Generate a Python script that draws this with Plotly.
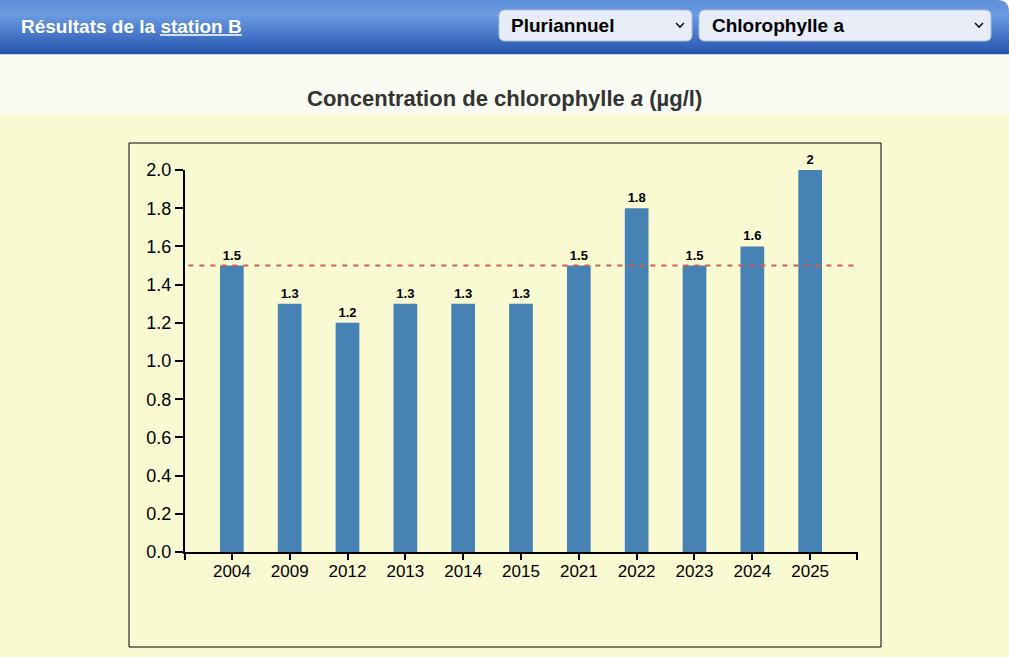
import plotly.graph_objects as go

# Data
years = ["2004", "2009", "2012", "2013", "2014", "2015", "2021", "2022", "2023", "2024", "2025"]
chl_a = [1.5, 1.3, 1.2, 1.3, 1.3, 1.3, 1.5, 1.8, 1.5, 1.6, 2.0]
reference_value = 1.5
y_ticks = [0.0, 0.2, 0.4, 0.6, 0.8, 1.0, 1.2, 1.4, 1.6, 1.8, 2.0]

W, H = 1009, 657
FONT = "Arial, Liberation Sans, sans-serif"


def px(x):
    return x / W


def py(y):
    return 1 - y / H


def rounded_rect(x0, y0, x1, y1, r):
    # SVG path for a rounded rectangle, given in pixel coords
    return (f"M{px(x0 + r)},{py(y0)} L{px(x1 - r)},{py(y0)} "
            f"Q{px(x1)},{py(y0)} {px(x1)},{py(y0 + r)} "
            f"L{px(x1)},{py(y1 - r)} Q{px(x1)},{py(y1)} {px(x1 - r)},{py(y1)} "
            f"L{px(x0 + r)},{py(y1)} Q{px(x0)},{py(y1)} {px(x0)},{py(y1 - r)} "
            f"L{px(x0)},{py(y0 + r)} Q{px(x0)},{py(y0)} {px(x0 + r)},{py(y0)} Z")


def lerp_color(c0, c1, t):
    a = [int(c0[i:i + 2], 16) for i in (1, 3, 5)]
    b = [int(c1[i:i + 2], 16) for i in (1, 3, 5)]
    return "#" + "".join(f"{round(a[i] + (b[i] - a[i]) * t):02x}" for i in range(3))


fig = go.Figure()
fig.add_trace(go.Bar(
    x=years, y=chl_a, width=0.41,
    marker=dict(color="#4682b4", line=dict(width=0)),
    text=[f"{v:g}" for v in chl_a], textposition="outside",
    textfont=dict(family=FONT, size=13, color="#000000", weight="bold"),
    constraintext="none", cliponaxis=False, hoverinfo="x+y",
))

shapes = []
# off-white band under the header
shapes.append(dict(type="rect", xref="paper", yref="paper", x0=0, x1=1,
                   y0=py(114), y1=1, fillcolor="#fafbf2", line_width=0, layer="below"))
# header gradient built from thin bands
stops = [(0, "#5f90da"), (14, "#6b9be1"), (54, "#2352ae")]
for yy in range(0, 54, 2):
    for (a, ca), (b, cb) in zip(stops, stops[1:]):
        if a <= yy < b:
            col = lerp_color(ca, cb, (yy - a) / (b - a))
    shapes.append(dict(type="rect", xref="paper", yref="paper", x0=0, x1=1,
                       y0=py(min(yy + 2, 54)), y1=py(yy), fillcolor=col,
                       line_width=0, layer="below"))
shapes.append(dict(type="line", xref="paper", yref="paper", x0=0, x1=1,
                   y0=py(54.5), y1=py(54.5), line=dict(color="#c9d8f2", width=1)))
# rounded top-right corner of the header
r = 12
shapes.append(dict(type="path", xref="paper", yref="paper",
                   path=(f"M{px(W - r)},{py(0)} L{px(W)},{py(0)} L{px(W)},{py(r)} "
                         f"Q{px(W)},{py(0)} {px(W - r)},{py(0)} Z"),
                   fillcolor="#fafbf2", line_width=0))
# dropdown boxes
for x0, x1 in [(499, 692), (699, 991)]:
    shapes.append(dict(type="path", xref="paper", yref="paper",
                       path=rounded_rect(x0, 10, x1, 41, 6),
                       fillcolor="#e7ecf7", line=dict(color="#aebfdc", width=1)))
    cx = x1 - 12
    shapes.append(dict(type="path", xref="paper", yref="paper",
                       path=f"M{px(cx - 4)},{py(23)} L{px(cx)},{py(27)} L{px(cx + 4)},{py(23)}",
                       line=dict(color="#111111", width=1.6)))
# underline of "station B"
shapes.append(dict(type="line", xref="paper", yref="paper", x0=px(160), x1=px(242),
                   y0=py(35), y1=py(35), line=dict(color="#ffffff", width=1.4)))
# chart frame
shapes.append(dict(type="rect", xref="paper", yref="paper", x0=px(129), x1=px(881),
                   y0=py(647), y1=py(143), line=dict(color="#000000", width=1),
                   fillcolor="rgba(0,0,0,0)"))
# outer ticks at both ends of the x axis
for xd in (0, 1):
    shapes.append(dict(type="line", xref="x domain", yref="paper", x0=xd, x1=xd,
                       y0=py(552), y1=py(560), line=dict(color="#000000", width=2)))
# reference line
shapes.append(dict(type="line", xref="x domain", yref="y", x0=0.005, x1=1.0,
                   y0=reference_value, y1=reference_value,
                   line=dict(color="#d45a55", width=2, dash="5px,6px")))

annotations = [
    dict(text="<b>Résultats de la station B</b>", x=px(19), y=py(26), xref="paper",
         yref="paper", xanchor="left", yanchor="middle", showarrow=False,
         font=dict(family=FONT, size=19, color="#ffffff")),
    dict(text="<b>Pluriannuel</b>", x=px(509), y=py(25.5), xref="paper", yref="paper",
         xanchor="left", yanchor="middle", showarrow=False,
         font=dict(family=FONT, size=19, color="#000000")),
    dict(text="<b>Chlorophylle a</b>", x=px(710), y=py(25.5), xref="paper", yref="paper",
         xanchor="left", yanchor="middle", showarrow=False,
         font=dict(family=FONT, size=19, color="#000000")),
    dict(text="<b>Concentration de chlorophylle <i>a</i> (µg/l)</b>", x=px(505), y=py(99),
         xref="paper", yref="paper", xanchor="center", yanchor="middle", showarrow=False,
         font=dict(family=FONT, size=22, color="#333333")),
]

fig.update_layout(
    width=W, height=H, autosize=False,
    margin=dict(l=0, r=0, t=0, b=0, pad=0, autoexpand=False),
    paper_bgcolor="#fafad2", plot_bgcolor="rgba(0,0,0,0)",
    showlegend=False, bargap=0.5,
    shapes=shapes, annotations=annotations,
    font=dict(family=FONT, color="#000000"),
    xaxis=dict(domain=[px(185), px(857)], range=[-0.81, 10.81], type="category",
               categoryorder="array", categoryarray=years, automargin=False,
               showline=True, linecolor="#000000", linewidth=2, showgrid=False,
               ticks="outside", ticklen=6, tickwidth=1.5, tickcolor="#000000",
               ticklabelstandoff=-3,
               tickfont=dict(family=FONT, size=17, color="#000000"), fixedrange=True),
    yaxis=dict(domain=[py(552), py(170)], range=[0, 2], tickvals=y_ticks, automargin=False,
               tickformat=".1f", showline=True, linecolor="#000000", linewidth=2,
               showgrid=False, zeroline=False, ticks="outside", ticklen=8,
               tickwidth=1.5, tickcolor="#000000",
               tickfont=dict(family=FONT, size=18, color="#000000"), fixedrange=True),
)

fig.write_html("out.html", config={"displayModeBar": False},
               post_script="document.body.style.margin='0';")
